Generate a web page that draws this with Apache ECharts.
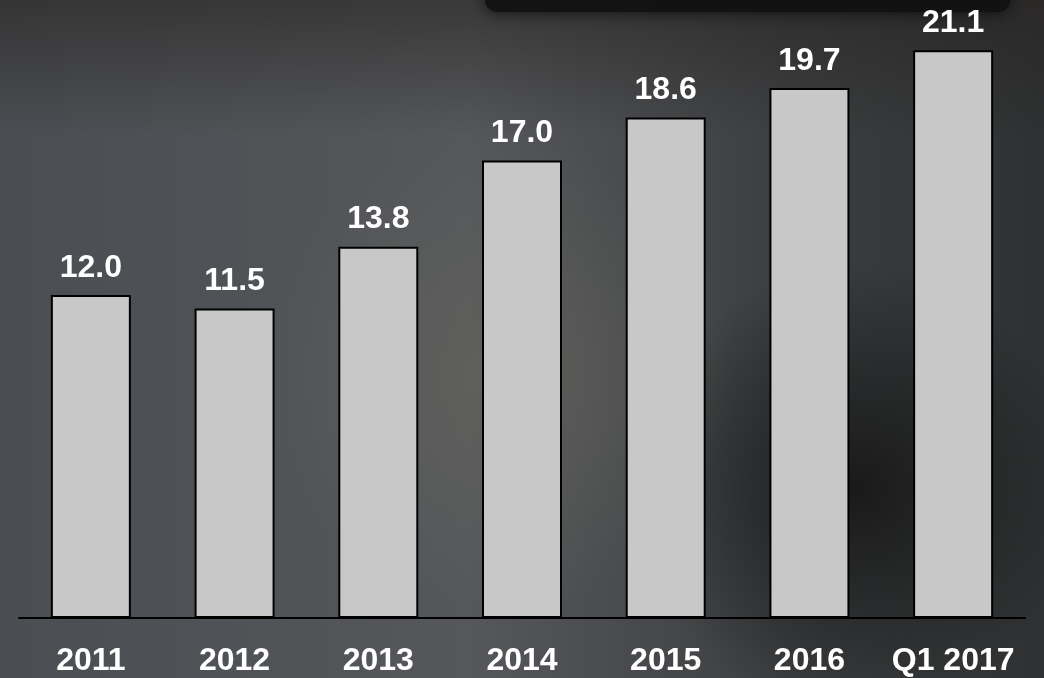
<!DOCTYPE html>
<html>
<head>
<meta charset="utf-8">
<script src="https://cdn.jsdelivr.net/npm/echarts@6/dist/echarts.min.js"></script>
<style>
html,body{margin:0;padding:0;background:#45484c;}
#chart{width:1044px;height:678px;}
</style>
</head>
<body>
<div id="chart"></div>
<script>
const categories = ['2011', '2012', '2013', '2014', '2015', '2016', 'Q1 2017'];
const values = [12.0, 11.5, 13.8, 17.0, 18.6, 19.7, 21.1];

const chart = echarts.init(document.getElementById('chart'), null, {renderer: 'canvas'});
const font = '"Liberation Sans", Arial, sans-serif';

chart.setOption({
  backgroundColor: {
    type: 'linear', x: 0, y: 0, x2: 1, y2: 0,
    colorStops: [
      {offset: 0, color: '#4a4d52'},
      {offset: 0.45, color: '#55575a'},
      {offset: 0.75, color: '#3c3e40'},
      {offset: 1, color: '#2e3031'}
    ]
  },
  graphic: [
    {
      type: 'rect', z: -10, silent: true,
      shape: {x: 0, y: 0, width: 1044, height: 678},
      style: {
        fill: {
          type: 'radial', x: 0.48, y: 0.55, r: 0.35,
          colorStops: [
            {offset: 0, color: 'rgba(105,103,95,0.55)'},
            {offset: 1, color: 'rgba(105,103,95,0)'}
          ]
        }
      }
    },
    {
      type: 'rect', z: -10, silent: true,
      shape: {x: 0, y: 0, width: 1044, height: 678},
      style: {
        fill: {
          type: 'radial', x: 0.82, y: 0.72, r: 0.33,
          colorStops: [
            {offset: 0, color: 'rgba(20,20,20,0.85)'},
            {offset: 1, color: 'rgba(20,20,20,0)'}
          ]
        }
      }
    },
    {
      type: 'rect', z: -10, silent: true,
      shape: {x: 0, y: 0, width: 1044, height: 678},
      style: {
        fill: {
          type: 'linear', x: 0, y: 0, x2: 0, y2: 1,
          colorStops: [
            {offset: 0, color: 'rgba(40,36,34,0.6)'},
            {offset: 0.2, color: 'rgba(40,36,34,0)'},
            {offset: 1, color: 'rgba(40,36,34,0)'}
          ]
        }
      }
    },
    {
      type: 'rect', z: -9, silent: true,
      shape: {x: 485, y: -12, width: 525, height: 24, r: 12},
      style: {fill: 'rgba(18,18,18,0.9)', shadowBlur: 16, shadowColor: 'rgba(0,0,0,0.8)'}
    }
  ],
  grid: {left: 19, right: 19, top: 26, bottom: 60, containLabel: false},
  xAxis: {
    type: 'category',
    data: categories,
    axisLine: {show: true, lineStyle: {color: '#000', width: 2}},
    axisTick: {show: false},
    axisLabel: {
      color: '#ffffff', fontFamily: font, fontWeight: 'bold', fontSize: 32,
      margin: 27, interval: 0
    }
  },
  yAxis: {
    type: 'value', min: 0, max: 22,
    show: false,
    splitLine: {show: false}
  },
  series: [{
    type: 'bar',
    data: values,
    barWidth: 80,
    itemStyle: {color: '#c8c8c8', borderColor: '#000', borderWidth: 2},
    label: {
      show: true, position: 'top', distance: 11,
      color: '#ffffff', fontFamily: font, fontWeight: 'bold', fontSize: 32,
      formatter: p => p.value.toFixed(1)
    }
  }]
});
</script>
</body>
</html>
